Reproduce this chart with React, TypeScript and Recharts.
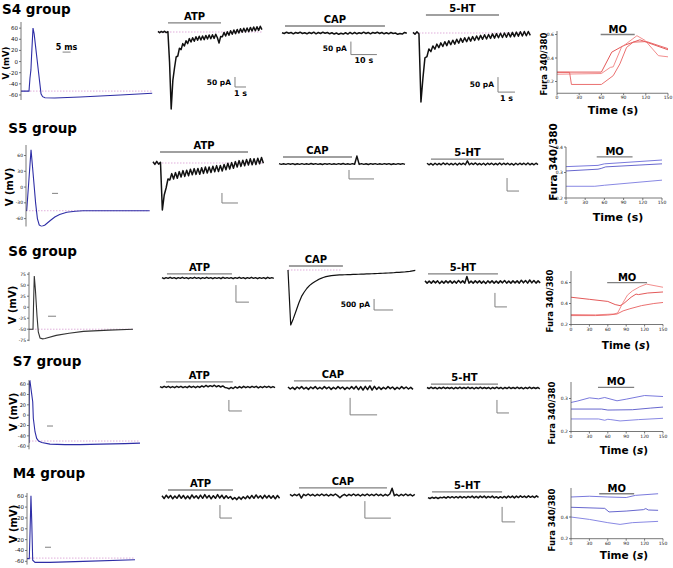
import React from "react";
import { LineChart, Line, XAxis, YAxis, ReferenceLine } from "recharts";

const FONT = "'DejaVu Sans', Verdana, sans-serif";
const BLUE = "#2e2ea6";
const PINK = "#d89ad2";
const GREY = "#808080";
const AXIS = "#555";
const REDS = ["#e04646", "#f08080", "#e86060"];
const VIOLETS = ["#6a6ad8", "#5656c8", "#7b7be0"];

// ---- action potentials: time (ms) / membrane potential (mV)
const S4_AP_T = [0, 5, 5.6, 6.2, 6.6, 7.5, 8.2, 9, 10, 11, 12, 12.5, 13.5, 15, 21, 37, 62, 82];
const S4_AP_V = [-53, -53, -30, -15, 10, 60, 50, 30, 5, -20, -45, -58, -63, -65, -65.5, -63.5, -60, -57];
const S5_AP_T = [0, 0.6, 2, 4.2, 5, 6.5, 8, 9.5, 11, 13, 15.8, 20, 24, 28, 34, 41, 47.5, 62, 103];
const S5_AP_V = [-45, -44, 0, 71, 50, 10, -30, -60, -72, -75, -72, -64, -57, -52, -48, -46, -45, -45, -45];
const S6_AP_T = [0, 2.5, 2.8, 3.3, 4, 5, 5.8, 6.9, 8.5, 10, 17, 25, 34, 50, 65];
const S6_AP_V = [-50, -50, 0, 71, 40, -20, -56, -70, -72, -71, -64, -59, -55, -52, -50];
const S7_AP_T = [0, 0.3, 0.8, 2, 3.1, 3.6, 5, 6.4, 8, 10.6, 17.5, 30, 42.5, 60, 80, 92.5];
const S7_AP_V = [-54, 65, 66, 45, 26, -6, -32, -45, -50, -53, -56, -57, -57, -56, -55, -54];
const M4_AP_T = [0, 1.9, 2.6, 3.3, 4, 4.75, 6.7, 19, 47, 90];
const M4_AP_V = [-55, -55, 0, 61, 10, -58, -62, -62, -60, -57];

const AP_TICKS_20 = [-60, -40, -20, 0, 20, 40, 60];
const AP_TICKS_30 = [-60, -30, 0, 30, 60];
const AP_TICKS_25 = [-75, -50, -25, 0, 25, 50, 75];

// ---- whole-cell currents (pA), evenly sampled over each trace
const S4_ATP = [3, -4, 3, -2, 4, -3, 2, -150, -385, -242, -180, -125, -120, -81, -88, -58, -70, -44, -58, -33, -50, -29, -46, -24, -41, -21, -40, -20, -38, -17, -35, -15, -34, -14, -32, -11, -29, -55, -22, -24, -2, -20, 1, -16, 6, -11, 10, -8, 13, -5, 16, -1, 19, 0, 20, 2, 23, 5, 25, 6, 26, 8, 29, 12];
const S4_CAP = [1, -2, 3, -1, 2, -3, 2, -1, 3, -2, 1, -3, 2, -2, 3, -3, 2, -2, 3, -1, 2, -3, 1, -4, 0, -5, -1, -4, 1, -4, 2, -3, 2, -3, 1, -2, 3, -2, 2, -3, 2, -1, 3, -2, 2, -3, 1, -3, 2, -2, 0, -5, -2, -4, 2, -1];
const S4_5HT = [2, -4, 4, -3, -230, -150, -83, -79, -53, -62, -43, -54, -37, -49, -33, -45, -29, -42, -26, -39, -24, -37, -21, -34, -18, -31, -16, -29, -14, -27, -12, -25, -10, -23, -8, -21, -6, -20, -5, -18, -3, -17, -2, -16, -1, -15, 0, -14, 1, -13, 2, -12, 3, -11, 4, -10, 5, -9, 5, -8];
const S5_ATP = [6, -7, 8, -6, 4, -235, -160, -125, -80, -85, -53, -80, -48, -76, -43, -70, -38, -67, -36, -64, -31, -59, -28, -57, -27, -56, -24, -52, -20, -50, -20, -48, -16, -44, -13, -43, -12, -40, -7, -34, -1, -30, 2, -26, 7, -20, 12, -17, 14, -14, 18, -10, 21, -9, 21, -8, 24, -4, 28, -1];
const S5_CAP = [2, -2, 1, -2, 2, -1, 2, -3, 1, -2, 2, -2, 1, -2, 3, -1, 2, -2, 1, -3, 2, -1, 2, -2, 1, -2, 2, -1, 3, -2, 1, -2, 2, -1, 44, -2, 2, -2, 1, -3, 2, -1, 2, -2, 1, -2, 2, -1, 2, -3, 1, -2, 2, -1, 2, -2];
const S5_5HT = [3, -3, 2, -4, 3, -3, 2, -3, 4, -2, 3, -3, 2, -3, 3, -4, 3, -2, 3, -3, 12, -3, 3, -2, 4, -3, 2, -3, 3, -4, 3, -2, 3, -3, 2, -3, 4, -3, 3, -2, 3, -3, 2, -4, 3, -3, 3, -2, 3, -3, 4, -3, 2, -3, 3, -2];
const S6_ATP = [1, -2, 1, -1, 2, -1, 1, -2, 1, -1, 2, -1, 1, -2, 1, -1, 2, -1, 1, -2, 1, -1, 2, -1, 1, -2, 1, -1, 1, -2, 2, -1, 1, -1, 1, -2, 1, -1, 2, -1, 1, -2, 1, -1, 2, -1, 1, -2, 1, -1, 1, -2, 2, -1, 1, -1];
const S6_CAP = [0, -2500, -2200, -1850, -1500, -1200, -1000, -830, -700, -600, -520, -450, -390, -340, -300, -275, -255, -240, -232, -225, -220, -215, -210, -206, -202, -198, -194, -190, -186, -180, -175, -170, -165, -160, -154, -148, -142, -136, -130, -124, -110, -105, -98, -90, -75, -60, -40, -20];
const S6_5HT = [4, -4, 3, -4, 4, -3, 4, -5, 3, -4, 4, -3, 4, -4, 3, -4, 5, -3, 4, -4, 20, -4, 3, -4, 4, -3, 4, -4, 3, -5, 4, -3, 4, -4, 3, -4, 4, -3, 5, -4, 3, -4, 4, -3, 4, -4, 6, -3, 5, -4, 7, -3, 5, -4, 4, -3];
const S7_ATP = [2, -3, 3, -2, 3, -3, 2, -3, 3, -2, 3, -3, 2, -3, 4, -2, 3, -3, 3, -2, 5, 0, 7, 1, 6, 2, 8, 1, 6, 0, 5, -2, -4, -8, -2, -7, 1, -5, 2, -4, 3, -3, 2, -3, 3, -2, 3, -4, 2, -3, 3, -2, 3, -3, 2, -3];
const S7_CAP = [3, -3, 2, -4, 3, -2, 4, -3, 2, -4, 3, -2, 4, -3, 2, -3, 4, -2, 3, -4, 2, -3, 4, -2, 3, -4, 2, -3, 4, -3, 5, -5, 4, -6, 5, -5, 6, -6, 5, -4, 3, -4, 2, -3, 4, -2, 3, -4, 2, -3, 4, -2, 3, -3, 2, -4];
const S7_5HT = [2, -2, 3, -2, 2, -3, 2, -2, 3, -2, 2, -2, 2, -3, 2, -2, 3, -2, 2, -2, 3, -2, 2, -3, 2, -2, 3, -2, 2, -2, 2, -3, 2, -2, 3, -2, 2, -3, 2, -2, 3, -2, 2, -2, 3, -2, 2, -3, 2, -2, 3, -2, 2, -2, 2, -3];
const M4_ATP = [5, -6, 7, -4, 6, -7, 4, -5, 8, -5, 6, -7, 4, -7, 8, -4, 5, -6, 7, -5, 9, -4, 6, -7, 5, -5, 9, -4, 7, -6, 5, -5, 2, -9, -2, -10, 0, -9, 1, -7, 4, -6, 6, -5, 8, -4, 5, -6, 7, -4, 6, -5, 5, -7, 6, -5];
const M4_CAP = [2, -3, 2, -2, 3, -9, 2, -2, 3, -2, 2, -3, 2, -2, 3, -2, 2, -3, 2, -2, 3, -2, -8, -2, 2, -3, 2, -2, 3, -2, 2, -3, 2, -2, 3, -2, 2, -2, 3, -2, 2, -3, 2, -2, 3, 20, -2, 2, -3, 2, -2, 3, -2, 2, -3, 2];
const M4_5HT = [-2, -5, -1, -4, -1, -5, -1, -3, 0, -4, 1, -3, 1, -3, 1, -3, 2, -3, 1, -3, 2, -2, 3, -3, 2, -3, 3, -2, 3, -3, 2, -2, 3, -3, 1, -4, 1, -3, 2, -3, 3, -2, 3, -3, 3, -2, 4, -1, 3, -2, 4, -1, 3, -2, 4, -1];

// ---- calcium imaging: [time (s), Fura 340/380]
const S4_FURA = [
  [[0, 0.28], [60, 0.28], [74, 0.45], [90, 0.506], [112, 0.555], [150, 0.47]],
  [[0, 0.262], [60, 0.268], [72, 0.32], [76, 0.325], [87, 0.49], [108, 0.59], [119, 0.55], [137, 0.42], [150, 0.41]],
  [[0, 0.278], [17, 0.278], [19.5, 0.175], [60, 0.175], [76, 0.25], [85, 0.35], [94, 0.49], [103, 0.535], [121, 0.54], [150, 0.48]],
];
const S5_FURA = [
  [[0, 0.323], [50, 0.328], [60, 0.334], [150, 0.349]],
  [[0, 0.306], [50, 0.313], [55, 0.316], [62, 0.322], [150, 0.334]],
  [[0, 0.246], [45, 0.246], [60, 0.25], [150, 0.27]],
];
const S6_FURA = [
  [[0, 0.46], [30, 0.44], [60, 0.42], [72, 0.39], [80, 0.38], [86, 0.4], [98, 0.46], [106, 0.49], [110, 0.485], [125, 0.5], [150, 0.51]],
  [[0, 0.295], [40, 0.292], [70, 0.3], [76, 0.31], [84, 0.4], [92, 0.48], [100, 0.52], [112, 0.56], [123, 0.585], [150, 0.555]],
  [[0, 0.285], [40, 0.285], [60, 0.29], [75, 0.3], [85, 0.33], [96, 0.35], [115, 0.38], [135, 0.4], [150, 0.41]],
];
const S7_FURA = [
  [[0, 0.288], [10, 0.292], [30, 0.302], [45, 0.299], [55, 0.303], [75, 0.293], [90, 0.298], [120, 0.309], [150, 0.306]],
  [[0, 0.268], [50, 0.268], [60, 0.265], [100, 0.266], [130, 0.271], [150, 0.274]],
  [[0, 0.238], [45, 0.238], [55, 0.234], [60, 0.237], [65, 0.236], [80, 0.232], [110, 0.236], [150, 0.24]],
];
const M4_FURA = [
  [[0, 0.585], [30, 0.592], [60, 0.585], [90, 0.58], [105, 0.6], [142, 0.615]],
  [[0, 0.49], [55, 0.48], [62, 0.447], [90, 0.455], [118, 0.468], [122, 0.478], [126, 0.465], [142, 0.462]],
  [[0, 0.4], [30, 0.378], [60, 0.348], [80, 0.332], [100, 0.348], [142, 0.36]],
];
const TIME_TICKS = [0, 30, 60, 90, 120, 150];

const GROUPS = ["S4 group", "S5 group", "S6 group", "S7 group", "M4 group"];

// ---- layout
const AP_PANELS = [
  { t: S4_AP_T, v: S4_AP_V, ax: 21, top: 22, bot: 100, dom: [-69, 71], ticks: AP_TICKS_20, kx: 1.6, right: 155, rest: -53, color: BLUE, fs: 5.5, bar: { v: 17, t0: 26, t1: 31, text: "5 ms" } },
  { t: S5_AP_T, v: S5_AP_V, ax: 26, top: 144.5, bot: 226, dom: [-75, 80], ticks: AP_TICKS_30, kx: 1.2, right: 153, rest: -45, color: BLUE, fs: 4.5, bar: { v: -12, t0: 21.7, t1: 26.7 } },
  { t: S6_AP_T, v: S6_AP_V, ax: 29, top: 271.8, bot: 340.9, dom: [-77, 80], ticks: AP_TICKS_25, kx: 1.6, right: 136, rest: -50, color: "#333", fs: 4.5, bar: { v: -20.5, t0: 11.9, t1: 16.9 } },
  { t: S7_AP_T, v: S7_AP_V, ax: 29, top: 379.8, bot: 449.1, dom: [-66, 68], ticks: AP_TICKS_20, kx: 1.2, right: 143, rest: -50, color: BLUE, fs: 5, bar: { v: -21, t0: 15, t1: 20 } },
  { t: M4_AP_T, v: M4_AP_V, ax: 27, top: 492.7, bot: 564.3, dom: [-66, 66], ticks: AP_TICKS_20, kx: 1.2, right: 138, rest: -54, color: BLUE, fs: 5.5, bar: { v: -34, t0: 15, t1: 20 } },
];

const TRACES = [
  { data: S4_ATP, dur: 9.45, left: 158, base: 32, kx: 11, ky: 0.2, drug: { name: "ATP", t0: 0.91, t1: 5.73, at: 46 }, bar: { t: 7.0, top: -225, h: 50, w: 1, hText: "50 pA", wText: "1 s" }, pink: [0, 9.45] },
  { data: S4_CAP, dur: 48, left: 282, base: 33, kx: 2.6, ky: 0.26, drug: { name: "CAP", t0: 1.15, t1: 39.6, at: 27 }, bar: { t: 26.5, top: -33, h: 50, w: 10, hText: "50 pA", wText: "10 s" } },
  { data: S4_5HT, dur: 6.9, left: 413, base: 33, kx: 17, ky: 0.3, drug: { name: "5-HT", t0: 0.76, t1: 5.06, at: 60 }, bar: { t: 5.0, top: -147, h: 50, w: 1, hText: "50 pA", wText: "1 s" }, pink: [0, 6.9] },
  { data: S5_ATP, dur: 6.9, left: 153, base: 163, kx: 16, ky: 0.2, drug: { name: "ATP", t0: 0.44, t1: 5.94, at: 55 }, bar: { t: 4.31, top: -150, h: 50, w: 1 }, pink: [0, 6.9] },
  { data: S5_CAP, dur: 50.4, left: 279, base: 164, kx: 2.5, ky: 0.18, drug: { name: "CAP", t0: 1.6, t1: 29.2, at: 39 }, bar: { t: 28, top: -33, h: 50, w: 10 } },
  { data: S5_5HT, dur: 9.25, left: 427, base: 164, kx: 12, ky: 0.26, drug: { name: "5-HT", t0: 0.33, t1: 6.42, at: 19 }, bar: { t: 6.67, top: -54, h: 50, w: 1 } },
  { data: S6_ATP, dur: 8.6, left: 162, base: 278, kx: 13, ky: 0.34, drug: { name: "ATP", t0: 0.38, t1: 5.38, at: 12 }, bar: { t: 5.69, top: -21, h: 50, w: 1 } },
  { data: S6_CAP, dur: 67, left: 288, base: 270, kx: 1.9, ky: 0.022, drug: { name: "CAP", t0: 0.5, t1: 28.9, at: 182 }, bar: { t: 45.3, top: -1318, h: 500, w: 10, hText: "500 pA" }, pink: [0, 28], thin: true },
  { data: S6_5HT, dur: 9.6, left: 425, base: 282, kx: 12, ky: 0.28, drug: { name: "5-HT", t0: 0.25, t1: 6.08, at: 29 }, bar: { t: 5.83, top: -39, h: 50, w: 1 } },
  { data: S7_ATP, dur: 8.85, left: 160, base: 387, kx: 13, ky: 0.22, drug: { name: "ATP", t0: 0.46, t1: 5.6, at: 23 }, bar: { t: 5.3, top: -59, h: 50, w: 1 } },
  { data: S7_CAP, dur: 46.3, left: 288, base: 388, kx: 2.7, ky: 0.34, drug: { name: "CAP", t0: 2.2, t1: 31.1, at: 21 }, bar: { t: 23, top: -29, h: 50, w: 10 } },
  { data: S7_5HT, dur: 9.4, left: 427, base: 388, kx: 12, ky: 0.26, drug: { name: "5-HT", t0: 0.33, t1: 5.92, at: 15 }, bar: { t: 5.83, top: -46, h: 50, w: 1 } },
  { data: M4_ATP, dur: 9.8, left: 162, base: 497, kx: 12, ky: 0.26, drug: { name: "ATP", t0: 0.5, t1: 5.92, at: 27 }, bar: { t: 4.83, top: -31, h: 50, w: 1 } },
  { data: M4_CAP, dur: 48, left: 290, base: 495, kx: 2.6, ky: 0.34, drug: { name: "CAP", t0: 3.46, t1: 37.3, at: 21 }, bar: { t: 28.8, top: -18, h: 50, w: 10 } },
  { data: M4_5HT, dur: 8.5, left: 428, base: 497, kx: 13, ky: 0.3, drug: { name: "5-HT", t0: 0.31, t1: 5.7, at: 17 }, bar: { t: 5.7, top: -33, h: 50, w: 1 } },
];

const FURA_PANELS = [
  { lines: S4_FURA, colors: REDS, ax: 557, x150: 668, top: 30.5, bot: 92.75, dom: [0.1, 0.63], ticks: [0.2, 0.4, 0.6], title: { x: 544, y: 64, size: 8.5 }, time: { x: 613, y: 110, size: 11, italic: false }, mo: [59, 105, 0.6] },
  { lines: S5_FURA, colors: VIOLETS, ax: 566, x150: 662, top: 147, bot: 198, dom: [0.2, 0.4], ticks: [0.2, 0.3, 0.4], title: { x: 553, y: 162, size: 10.5 }, time: { x: 618, y: 217, size: 11, italic: false }, mo: [48, 104, 0.361] },
  { lines: S6_FURA, colors: REDS, ax: 571, x150: 663, top: 270.5, bot: 324, dom: [0.2, 0.71], ticks: [0.2, 0.4, 0.6], title: { x: 550, y: 301, size: 8.5 }, time: { x: 626, y: 345, size: 10.5, italic: true }, mo: [59, 124, 0.6] },
  { lines: S7_FURA, colors: VIOLETS, ax: 571, x150: 663, top: 381.5, bot: 431, dom: [0.2, 0.35], ticks: [0.2, 0.3], title: { x: 552, y: 413, size: 8.5 }, time: { x: 624, y: 450, size: 10.5, italic: true }, mo: [44, 103, 0.334] },
  { lines: M4_FURA, colors: VIOLETS, ax: 571, x150: 663, top: 487.6, bot: 538.3, dom: [0.2, 0.668], ticks: [0.2, 0.4], title: { x: 552, y: 520, size: 8.5 }, time: { x: 624, y: 555, size: 10.5, italic: true }, mo: [46, 103, 0.615] },
];

const GROUP_POS = [
  [2, 13.5], [8.3, 132.7], [8.3, 256], [12.7, 366], [12.7, 477.7],
];
const AP_TITLE_POS = [
  [5.5, 63, 8.5], [9.5, 187, 10], [12.5, 305, 10], [13, 412, 10], [13, 524, 10],
];

function lbl(value: string, position: string, size: number, offset: number) {
  return { value, position, offset, fontSize: size, fontWeight: 700, fontFamily: FONT, fill: "#000" } as any;
}

function APPanel({ s }: { s: any }) {
  const P = 6;
  const pts = s.t.map((t: number, i: number) => ({ t, v: s.v[i] }));
  const tEnd = s.t[s.t.length - 1];
  const tick = { fontSize: s.fs, fill: "#111", fontFamily: FONT };
  return (
    <div style={{ position: "absolute", left: 0, top: s.top - P }}>
      <LineChart width={s.right + P} height={s.bot - s.top + 2 * P} data={pts} margin={{ top: P, right: P, bottom: P, left: 0 }}>
        <XAxis type="number" dataKey="t" domain={[0, (s.right - s.ax) / s.kx]} hide allowDataOverflow />
        <YAxis type="number" domain={s.dom} ticks={s.ticks} interval={0} width={s.ax} allowDataOverflow tickSize={2} tickMargin={1} tick={tick} axisLine={{ stroke: AXIS, strokeWidth: 0.8 }} tickLine={{ stroke: AXIS, strokeWidth: 0.8 }} />
        <ReferenceLine segment={[{ x: 0, y: s.rest }, { x: tEnd, y: s.rest }]} stroke={PINK} strokeDasharray="1.5 1.5" strokeWidth={0.8} />
        <Line type="linear" dataKey="v" stroke={s.color} strokeWidth={1.1} dot={false} isAnimationActive={false} />
        <ReferenceLine segment={[{ x: s.bar.t0, y: s.bar.v }, { x: s.bar.t1, y: s.bar.v }]} stroke={GREY} strokeWidth={1} label={s.bar.text ? lbl(s.bar.text, "top", 8, 2) : undefined} />
      </LineChart>
    </div>
  );
}

function TracePanel({ s }: { s: any }) {
  const x0 = s.left - 12;
  const x1 = s.left + s.dur * s.kx + 12;
  const y0 = s.base - 42;
  const y1 = s.base + 84;
  const pts = s.data.map((v: number, i: number) => ({ t: (i * s.dur) / (s.data.length - 1), v }));
  const xDom = [(x0 - s.left) / s.kx, (x1 - s.left) / s.kx];
  const yDom = [(s.base - y1) / s.ky, (s.base - y0) / s.ky];
  const b = s.bar;
  const low = b.top - b.h;
  return (
    <div style={{ position: "absolute", left: x0, top: y0 }}>
      <LineChart width={x1 - x0} height={y1 - y0} data={pts} margin={{ top: 0, right: 0, bottom: 0, left: 0 }}>
        <XAxis type="number" dataKey="t" domain={xDom} hide allowDataOverflow />
        <YAxis type="number" domain={yDom} hide allowDataOverflow />
        {s.pink && (
          <ReferenceLine segment={[{ x: s.pink[0], y: 0 }, { x: s.pink[1], y: 0 }]} stroke={PINK} strokeDasharray="1.5 1.5" strokeWidth={0.8} />
        )}
        <Line type="linear" dataKey="v" stroke="#111" strokeWidth={s.thin ? 1.2 : 1.5} strokeLinejoin="round" dot={false} isAnimationActive={false} />
        <ReferenceLine segment={[{ x: s.drug.t0, y: s.drug.at }, { x: s.drug.t1, y: s.drug.at }]} stroke={GREY} strokeWidth={1.3} label={lbl(s.drug.name, "top", 10, 3)} />
        <ReferenceLine segment={[{ x: b.t, y: b.top }, { x: b.t, y: low }]} stroke={GREY} strokeWidth={1} label={b.hText ? lbl(b.hText, "left", 7.5, 4) : undefined} />
        <ReferenceLine segment={[{ x: b.t, y: low }, { x: b.t + b.w, y: low }]} stroke={GREY} strokeWidth={1} label={b.wText ? lbl(b.wText, "bottom", 8, 3) : undefined} />
      </LineChart>
    </div>
  );
}

function FuraPanel({ s }: { s: any }) {
  const P = 18;
  const left = s.title.x - 8;
  const Wy = s.ax - left;
  const Hx = s.time.y + 8 - s.bot;
  const tick = { fontSize: 4.5, fill: "#111", fontFamily: FONT };
  return (
    <div style={{ position: "absolute", left, top: s.top - P }}>
      <LineChart width={Wy + s.x150 - s.ax + 6} height={P + s.bot - s.top + Hx} margin={{ top: P, right: 6, bottom: 0, left: 0 }}>
        <XAxis type="number" dataKey="t" domain={[0, 150]} ticks={TIME_TICKS} interval={0} height={Hx} allowDataOverflow tickSize={2} tickMargin={1} tick={tick} axisLine={{ stroke: AXIS, strokeWidth: 0.8 }} tickLine={{ stroke: AXIS, strokeWidth: 0.8 }} />
        <YAxis type="number" dataKey="v" domain={s.dom} ticks={s.ticks} interval={0} width={Wy} allowDataOverflow tickSize={2} tickMargin={1} tick={tick} tickFormatter={(v: number) => v.toFixed(1)} axisLine={{ stroke: AXIS, strokeWidth: 0.8 }} tickLine={{ stroke: AXIS, strokeWidth: 0.8 }} />
        {s.lines.map((l: number[][], i: number) => (
          <Line key={i} type="linear" data={l.map(([t, v]) => ({ t, v }))} dataKey="v" stroke={s.colors[i]} strokeWidth={0.9} dot={false} isAnimationActive={false} />
        ))}
        <ReferenceLine segment={[{ x: s.mo[0], y: s.mo[2] }, { x: s.mo[1], y: s.mo[2] }]} stroke={GREY} strokeWidth={1.3} label={lbl("MO", "top", 10, 2)} />
      </LineChart>
    </div>
  );
}

function Titles() {
  return (
    <svg width={673} height={568} style={{ position: "absolute", left: 0, top: 0, pointerEvents: "none" }} fontFamily={FONT} fontWeight={700}>
      {GROUPS.map((g, i) => (
        <text key={g} x={GROUP_POS[i][0]} y={GROUP_POS[i][1]} fontSize={13.5} fill="#000">{g}</text>
      ))}
      {AP_TITLE_POS.map(([x, y, fs], i) => (
        <text key={"v" + i} x={x} y={y} fontSize={fs} textAnchor="middle" dominantBaseline="central" transform={`rotate(-90 ${x} ${y})`} fill="#000">V (mV)</text>
      ))}
      {FURA_PANELS.map((f, i) => (
        <g key={"f" + i}>
          <text x={f.title.x} y={f.title.y} fontSize={f.title.size} textAnchor="middle" dominantBaseline="central" transform={`rotate(-90 ${f.title.x} ${f.title.y})`} fill="#000">Fura 340/380</text>
          <text x={f.time.x} y={f.time.y} fontSize={f.time.size} textAnchor="middle" dominantBaseline="central" fill="#000">
            Time (<tspan fontStyle={f.time.italic ? "italic" : "normal"}>s</tspan>)
          </text>
        </g>
      ))}
    </svg>
  );
}

export default function App() {
  return (
    <div style={{ position: "absolute", left: 0, top: 0, width: 673, height: 568, overflow: "hidden", background: "#fff", fontFamily: FONT }}>
      {AP_PANELS.map((s, i) => <APPanel key={"ap" + i} s={s} />)}
      {TRACES.map((s, i) => <TracePanel key={"tr" + i} s={s} />)}
      {FURA_PANELS.map((s, i) => <FuraPanel key={"fu" + i} s={s} />)}
      <Titles />
    </div>
  );
}
